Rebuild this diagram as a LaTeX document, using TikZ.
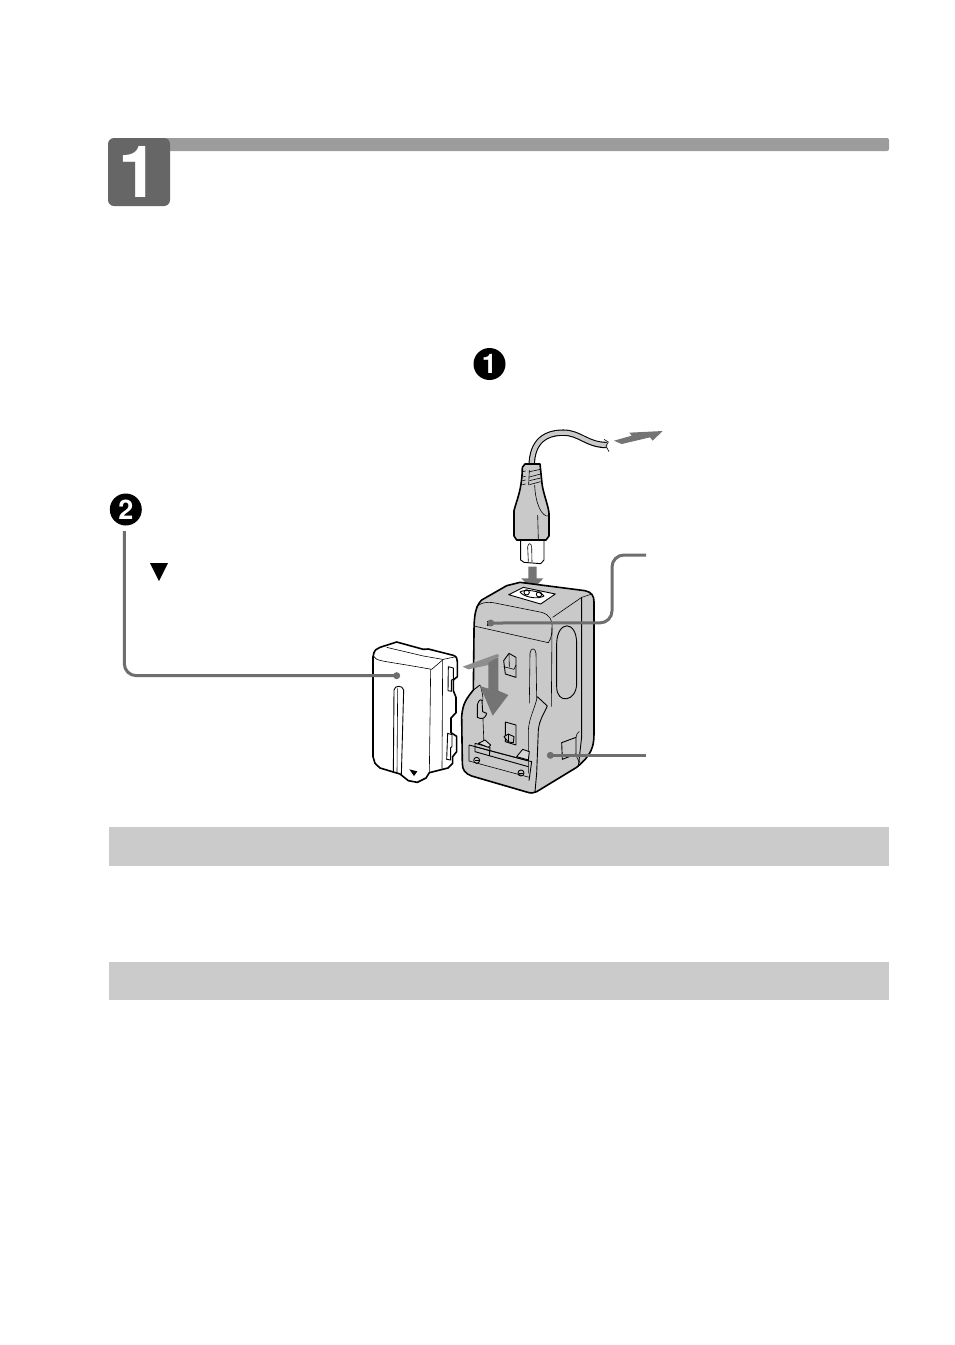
\documentclass[tikz,border=0pt]{standalone}
\usepackage{fontspec}
\setmainfont{TeX Gyre Heros}
\definecolor{bodygray}{HTML}{C9C9C9}
\definecolor{bandgray}{HTML}{CBCBCB}
\definecolor{bargray}{HTML}{9C9C9C}
\definecolor{tabgray}{HTML}{666666}
\definecolor{arrowgray}{HTML}{747474}
\definecolor{slantgray}{HTML}{8E8E8E}
\definecolor{leadgray}{HTML}{6E6E6E}
\tikzset{
  band/.style={fill=bandgray,draw=none},
  bignum/.style={circle,fill=black,text=white,minimum size=32pt,inner sep=0pt,font=\fontsize{27}{27}\selectfont\bfseries},
  leader/.style={draw=leadgray,line width=3pt,rounded corners=12pt},
  leaddot/.style={circle,fill=leadgray,minimum size=7pt,inner sep=0pt},
  heavy/.style={draw=black,line width=1.6pt,line join=round,fill=bodygray},
  medium/.style={draw=black,line width=0.9pt,line join=round},
  thin line/.style={draw=black,line width=0.6pt,line join=round},
  bigarrow/.style={fill=arrowgray,draw=none},
  zoomview/.style={x=0.33333pt,y=-0.33333pt}
}
\begin{document}
\begin{tikzpicture}[x=1pt,y=-1pt]
\useasboundingbox (0,0) rectangle (954,1345);
\fill[white] (0,0) rectangle (954,1345);
% header
\fill[bargray,rounded corners=2pt] (160,138) rectangle (889,151);
\node[fill=tabgray,rounded corners=6pt,minimum width=62pt,minimum height=68pt,inner sep=0pt,text=white,font=\fontsize{72}{72}\selectfont\bfseries] (tab) at (139,172) {1};
% bands
\fill[band] (109,827) rectangle (889,866);
\fill[band] (109,962) rectangle (889,1000);
% numbers
\node[bignum] (numone) at (489.5,364) {1};
\node[bignum] (numtwo) at (125.8,509.5) {2};
\fill[black] (150,563) -- (168,563) -- (159,581) -- cycle;

% plug
\begin{scope}[shift={(360,420)},zoomview]
  \draw[line width=6.4pt,black] (515,140) .. controls (515,60) and (560,38) .. (610,38) .. controls (660,38) and (680,75) .. (740,75);
  \draw[line width=4.2pt,bodygray] (515,140) .. controls (515,60) and (560,38) .. (610,38) .. controls (660,38) and (680,75) .. (742,75);
  \draw[thin line] (732,58) -- (745,66) -- (738,78) -- (747,95);
  \path[medium,fill=white] (482,355) -- (482,420) -- (492,427) -- (542,431) -- (552,420) -- (552,355) -- cycle;
  \path[thin line] (505,425) -- (503,380) .. controls (505,368) and (513,368) .. (515,380) -- (516,427);
  \path[heavy] (487,142) -- (495,132) -- (540,132) -- (546,190) .. controls (548,215) and (566,260) .. (567,280) -- (567,348) -- (558,360) -- (470,360) -- (462,348) -- (462,272) .. controls (470,240) and (486,210) .. (487,142);
  \foreach \ya/\yb in {155/148,171/162,182/174,194/185}{
    \draw[thin line] (508,\ya) -- (542,\yb);
    \draw[thin line] (487,\ya) -- (497,\ya-2);
  }
  \draw[thin line] (508,150) -- (506,195);
  \draw[thin line] (524,195) .. controls (526,250) and (545,292) .. (566,288);
  \draw[thin line] (533,285) -- (535,358);
\end{scope}
\begin{scope}[shift={(360,420)},zoomview]
  \fill[bigarrow] (762,62) -- (815,47) -- (808,38) -- (908,33) -- (878,62) -- (870,52) -- (785,72) -- cycle;
  \fill[bigarrow] (505,440) -- (530,440) -- (530,475) -- (550,475) -- (517,510) -- (484,475) -- (505,475) -- cycle;
\end{scope}

% battery and charger
\begin{scope}[shift={(360,570)},zoomview]
  % battery
  \path[heavy,fill=white] (39,260) .. controls (42,240) and (50,235) .. (60,232) -- (110,216) -- (190,238) -- (205,237) -- (280,256) .. controls (290,260) and (292,265) .. (292,275) -- (292,320) -- (280,330) -- (280,362) -- (288,382) -- (288,428) -- (273,444) -- (273,488) -- (290,499) -- (290,545) -- (278,560) -- (278,580) -- (264,594) -- (208,608) -- (198,624) -- (172,637) -- (145,632) -- (120,612) -- (60,594) -- (45,580) -- (39,560) -- cycle;
  \draw[thin line] (40,258) .. controls (50,275) and (60,270) .. (215,298) -- (250,268) -- (288,260);
  \draw[thin line] (80,232) -- (190,258) -- (248,268);
  \draw[thin line] (212,298) -- (208,608);
  \draw[medium] (100,608) -- (102,360) .. controls (104,345) and (128,345) .. (131,360) -- (124,617);
  \draw[thin line] (113,355) -- (111,610);
  \draw[thin line] (248,268) -- (246,596);
  % battery notches
  \draw[medium,fill=white] (265,290) -- (280,294) -- (280,328) -- (274,330) -- (274,364) -- (264,362) -- cycle;
  \draw[medium,fill=white] (263,490) -- (276,494) -- (276,530) -- (272,533) -- (272,570) -- (260,568) -- cycle;
  \fill[black] (148,598) -- (172,604) -- (162,618) -- cycle;

  % charger body
  \path[heavy] (342,190) .. controls (342,140) and (345,110) .. (365,90) -- (440,47) -- (480,37) -- (675,62) .. controls (695,66) and (702,78) .. (702,95) -- (702,490) .. controls (702,530) and (695,555) .. (650,592) -- (530,665) .. controls (520,670) and (512,670) .. (500,666) -- (335,618) .. controls (315,610) and (307,600) .. (307,580) -- (305,440) .. controls (308,400) and (320,385) .. (340,360) -- cycle;
  % top face
  \draw[thin line] (348,112) .. controls (360,98) and (380,95) .. (400,98) -- (545,127) .. controls (570,135) and (578,150) .. (576,175);
  \draw[thin line] (342,168) -- (565,218) .. controls (574,205) and (576,190) .. (576,175);
  \draw[thin line] (578,142) -- (665,82) -- (695,72);
  \draw[thin line] (576,175) -- (574,410);
  \draw[medium] (665,82) -- (665,500) -- (655,590);
  % socket
  \path[medium,fill=white] (446,74) -- (490,52) -- (586,72) -- (542,102) -- cycle;
  \draw[medium] (480,66) .. controls (490,58) and (540,60) .. (552,78) .. controls (530,90) and (490,80) .. (480,66) -- cycle;
  \draw[medium] (500,67) circle[radius=8];
  \draw[medium] (537,73) circle[radius=8];
  % oval window
  \draw[medium] (590,220) .. controls (592,150) and (650,150) .. (650,220) -- (650,340) .. controls (650,395) and (590,405) .. (590,350) -- cycle;
  % groove
  \draw[thin line] (510,250) .. controls (512,232) and (526,232) .. (528,250) -- (530,385);
  \draw[thin line] (510,250) -- (508,400);
  % right wall
  \draw[medium] (532,380) -- (562,408) .. controls (552,430) and (538,450) .. (535,480) -- (530,610) -- (525,665);
  \draw[thin line] (532,380) .. controls (525,415) and (508,440) .. (505,480) -- (505,610);
  % left wall
  \draw[medium] (340,360) -- (360,345);
  \draw[thin line] (360,345) .. controls (368,365) and (372,400) .. (366,392);
  \draw[thin line] (368,425) -- (372,525);
  % upper clip
  \draw[medium,fill=bodygray] (431,272) -- (447,250) -- (468,262) -- (468,322) -- (436,312) -- cycle;
  \draw[thin line] (431,290) -- (462,298) -- (468,285);
  \draw[thin line] (447,252) -- (448,292);
  % lower clip
  \draw[medium] (436,456) -- (468,465) -- (468,525) -- (436,515) -- cycle;
  \draw[medium,fill=gray!45] (432,500) -- (445,492) -- (462,500) -- (460,518) -- (445,516) -- cycle;
  \draw[thin line] (445,492) -- (445,516);
  % left hook
  \draw[medium,fill=bodygray] (352,442) -- (352,405) .. controls (355,392) and (362,385) .. (366,392) -- (368,425) -- (380,430) .. controls (378,440) and (370,448) .. (360,445) -- cycle;
  % tray
  \draw[medium] (327,525) -- (515,575) -- (507,632);
  \draw[thin line] (327,525) -- (327,573) -- (508,622);
  \draw[medium] (345,520) -- (345,545) -- (505,590);
  \draw[medium] (345,520) -- (390,532) -- (388,558);
  \draw[thin line] (345,530) -- (388,542) -- (505,573);
  \draw[medium,fill=gray!30] (355,520) -- (375,510) -- (392,525) -- (385,532) -- cycle;
  \draw[medium,fill=gray!30] (470,560) -- (488,538) -- (508,545) -- (505,570) -- cycle;
  \draw[medium] (350,571) circle[radius=9];
  \draw[thin line] (344,571) -- (356,571);
  \draw[medium] (483,609) circle[radius=9];
  \draw[thin line] (477,609) -- (489,609);
  % port
  \path[medium,fill=bodygray] (605,518) -- (648,502) -- (648,552) -- (607,568) -- cycle;
  \draw[thin line] (648,502) .. controls (650,492) and (652,488) .. (658,484);
  \draw[thin line] (648,552) .. controls (650,565) and (655,570) .. (660,578);
  % arrows on the charger
  \fill[slantgray] (308,290) -- (412,252) -- (418,258) -- (385,285) -- (325,298) -- cycle;
  \fill[bigarrow] (385,278) -- (415,262) -- (415,362) -- (445,375) -- (398,437) -- (360,348) -- (385,356) -- cycle;
  % LED
  \draw[medium,fill=gray] (383,155) rectangle (398,165);
  % leader ends
  \node[leaddot] (batdot) at (110,317) {};
  \node[leaddot] (leddot) at (392,159) {};
  \node[leaddot] (bodydot) at (571,556) {};
\end{scope}

% leaders
\coordinate (numtwofoot) at (124.3,531);
\coordinate (ledlabel) at (646,555);
\coordinate (bodylabel) at (646,755);
\coordinate (ledbendA) at (612,622.9);
\coordinate (ledbendB) at (612,555);
\draw[leader] (numtwofoot) |- (batdot.center);
\draw[leader] (leddot.center) -- (ledbendA) -- (ledbendB) -- (ledlabel);
\draw[leader] (bodydot.center) -- (bodylabel |- bodydot);
\end{tikzpicture}
\end{document}
